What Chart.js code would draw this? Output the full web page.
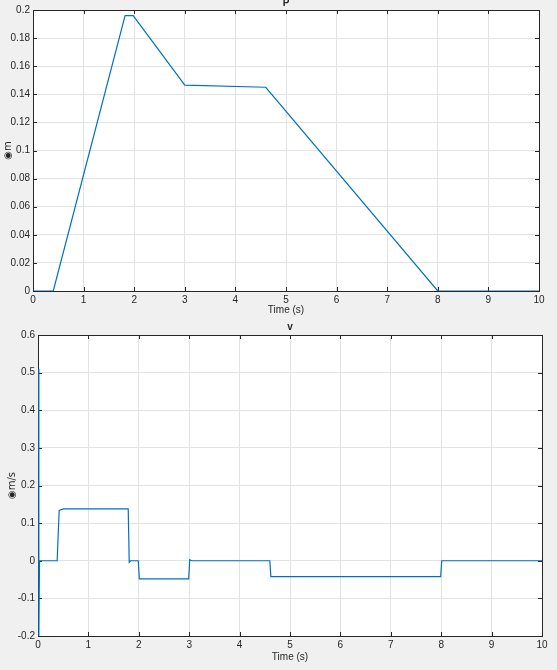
<!DOCTYPE html>
<html>
<head>
<meta charset="utf-8">
<script src="https://cdn.jsdelivr.net/npm/chart.js@4.4.0/dist/chart.umd.min.js"></script>
<style>
  body { margin: 0; background: #f0f0f0; width: 557px; height: 670px; overflow: hidden; position: relative; }
  canvas { position: absolute; left: 0; }
  #p-chart { top: 0; }
  #v-chart { top: 320px; }
</style>
</head>
<body>
<canvas id="p-chart" width="557" height="320"></canvas>
<canvas id="v-chart" width="557" height="350"></canvas>
<script>
// datos
const timeTicks = [0, 1, 2, 3, 4, 5, 6, 7, 8, 9, 10];
const posTicks = [0, 0.02, 0.04, 0.06, 0.08, 0.1, 0.12, 0.14, 0.16, 0.18, 0.2];
const velTicks = [-0.2, -0.1, 0, 0.1, 0.2, 0.3, 0.4, 0.5, 0.6];

const tP = [0, 0.4, 1.82, 1.98, 3.0, 4.6, 8.0, 10];
const pos = [0, 0, 0.196, 0.196, 0.1465, 0.145, 0, 0];

const tV = [0.015, 0.017, 0.03, 0.38, 0.42, 0.5, 1.79, 1.81, 1.84, 1.99, 2.01, 2.99, 3.01, 3.05, 4.6, 4.62, 7.99, 8.01, 10];
const vel = [0.51, -0.2, 0, 0, 0.134, 0.138, 0.138, -0.004, 0, 0, -0.048, -0.048, 0.003, 0, 0, -0.042, -0.042, 0, 0];

const FONT = 'Liberation Sans, Arial, sans-serif';
const INK = '#262626';

// fondo blanco del area de dibujo + caja con ticks hacia adentro (estilo MATLAB)
const matlabAxes = {
    id: 'matlabAxes',
    beforeDraw(chart) {
        const a = chart.chartArea;
        const ctx = chart.ctx;
        ctx.save();
        ctx.fillStyle = '#ffffff';
        ctx.fillRect(a.left, a.top, a.right - a.left, a.bottom - a.top);
        ctx.restore();
    },
    beforeDatasetsDraw(chart) {
        const a = chart.chartArea;
        const ctx = chart.ctx;
        const xs = chart.scales.x;
        const ys = chart.scales.y;
        const len = 4;
        ctx.save();
        ctx.strokeStyle = INK;
        ctx.lineWidth = 1;
        ctx.beginPath();
        xs.ticks.forEach(t => {
            const px = Math.round(xs.getPixelForValue(t.value)) + 0.5;
            ctx.moveTo(px, a.bottom); ctx.lineTo(px, a.bottom - len);
            ctx.moveTo(px, a.top); ctx.lineTo(px, a.top + len);
        });
        ys.ticks.forEach(t => {
            const py = Math.round(ys.getPixelForValue(t.value)) + 0.5;
            ctx.moveTo(a.left, py); ctx.lineTo(a.left + len, py);
            ctx.moveTo(a.right, py); ctx.lineTo(a.right - len, py);
        });
        ctx.stroke();
        ctx.strokeRect(Math.round(a.left) + 0.5, Math.round(a.top) + 0.5,
            Math.round(a.right - a.left), Math.round(a.bottom - a.top));
        ctx.restore();
    },
    afterDraw(chart, args, opts) {
        const a = chart.chartArea;
        const ctx = chart.ctx;
        // titulo del subplot
        ctx.save();
        ctx.fillStyle = INK;
        ctx.font = 'bold 10px ' + FONT;
        ctx.textAlign = 'center';
        ctx.textBaseline = 'middle';
        ctx.fillText(opts.title, (a.left + a.right) / 2, opts.titleY);
        ctx.restore();
    }
};

function makeChart(id, xData, yData, yTicks, opts) {
    const ctx = document.getElementById(id).getContext('2d');
    return new Chart(ctx, {
        type: 'scatter',
        data: {
            datasets: [{
                data: xData.map((x, i) => ({ x: x, y: yData[i] })),
                showLine: true,
                borderColor: '#0072bd',
                borderWidth: 1.2,
                pointRadius: 0,
                tension: 0
            }]
        },
        options: {
            responsive: false,
            devicePixelRatio: 1,
            animation: false,
            layout: { padding: opts.padding },
            plugins: {
                legend: { display: false },
                tooltip: { enabled: false },
                matlabAxes: { title: opts.title, titleY: opts.titleY }
            },
            scales: {
                x: {
                    type: 'linear',
                    min: 0, max: 10,
                    afterBuildTicks: s => { s.ticks = timeTicks.map(v => ({ value: v })); },
                    ticks: { padding: 3, color: INK, font: { family: FONT, size: 10 }, maxRotation: 0, autoSkip: false },
                    grid: { color: '#e3e3e3', drawTicks: false },
                    border: { display: false },
                    title: { display: true, text: 'Time (s)', color: INK, font: { family: FONT, size: 10 }, padding: { top: 0, bottom: opts.xTitlePad } },
                    afterFit: s => { s.height = opts.xHeight; }
                },
                y: {
                    type: 'linear',
                    min: yTicks[0], max: yTicks[yTicks.length - 1],
                    afterBuildTicks: s => { s.ticks = yTicks.map(v => ({ value: v })); },
                    ticks: {
                        padding: 3, color: INK, font: { family: FONT, size: 10 }, autoSkip: false,
                        callback: v => String(Math.round(v * 100) / 100)
                    },
                    grid: { color: '#e3e3e3', drawTicks: false },
                    border: { display: false },
                    title: { display: true, text: opts.yLabel, color: INK, font: { family: 'DejaVu Sans, sans-serif', size: 10 }, padding: { top: opts.yTitlePad, bottom: 0 } },
                    afterFit: s => { s.width = opts.yWidth; }
                }
            }
        },
        plugins: [matlabAxes]
    });
}

makeChart('p-chart', tP, pos, posTicks, {
    padding: { left: 0, right: 18, top: 10, bottom: 0 },
    xHeight: 29, xTitlePad: 4, yWidth: 33, yTitlePad: 2,
    yLabel: '\u25C9m', title: 'P', titleY: 3
});

makeChart('v-chart', tV, vel, velTicks, {
    padding: { left: 0, right: 15, top: 15, bottom: 0 },
    xHeight: 34, xTitlePad: 7, yWidth: 38, yTitlePad: 6,
    yLabel: '\u25C9m/s', title: 'v', titleY: 7
});
</script>
</body>
</html>
